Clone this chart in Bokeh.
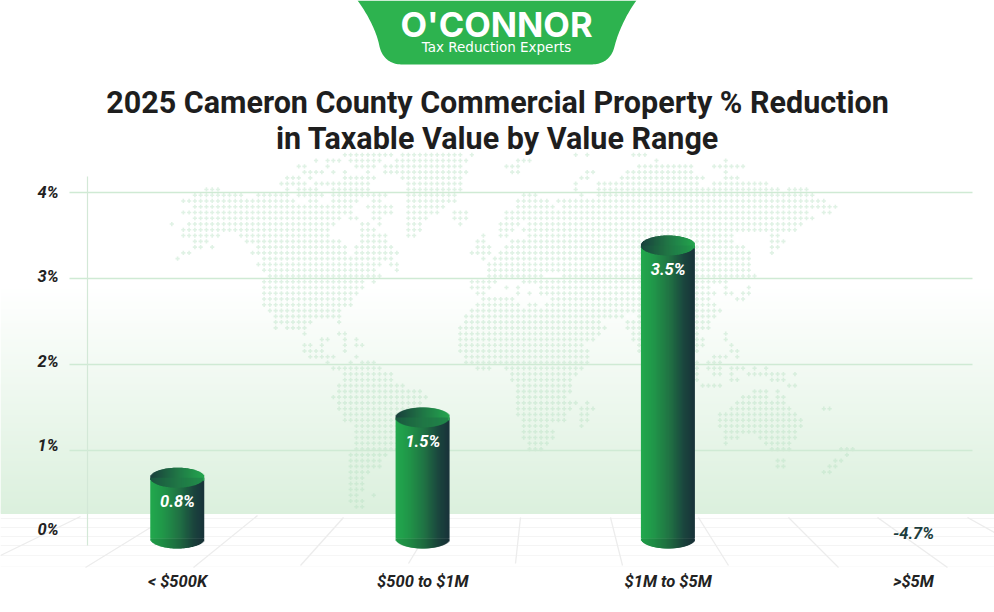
import numpy as np
from bokeh.plotting import figure
from bokeh.models import Range1d, LinearAxis, FixedTicker, ColumnDataSource
from bokeh.core.properties import value
from bokeh.embed import file_html
from bokeh.resources import INLINE

categories = ["< $500K", "$500 to $1M", "$1M to $5M", ">$5M"]
values = [0.8, 1.5, 3.5, -4.7]
value_labels = ["0.8%", "1.5%", "3.5%", "-4.7%"]
y_ticks = [0, 1, 2, 3, 4]
y_tick_labels = ["0%", "1%", "2%", "3%", "4%"]
title_lines = ["2025 Cameron County Commercial Property % Reduction", "in Taxable Value by Value Range"]

W, H = 994, 612
PX_PER_VAL = 86.0
ZERO_PY = 536.0
PX_PER_CAT = 245.33
FIRST_PX = 177.0

x0 = -FIRST_PX / PX_PER_CAT
p = figure(width=W, height=H, output_backend="svg", toolbar_location=None,
           x_range=Range1d(x0, x0 + W / PX_PER_CAT),
           y_range=Range1d((ZERO_PY - H) / PX_PER_VAL, ZERO_PY / PX_PER_VAL),
           x_axis_type=None, y_axis_type=None, min_border=0,
           background_fill_color="white", border_fill_color="white")
p.outline_line_color = None
p.grid.visible = False
p.extra_x_ranges["px"] = Range1d(0, W)
p.extra_y_ranges["py"] = Range1d(H, 0)
# tick labels sit on a slightly tighter spacing than the gridlines
LAB_ZERO, LAB_STEP = 529.0, 84.25
p.extra_y_ranges["labels"] = Range1d((LAB_ZERO - H) / LAB_STEP, LAB_ZERO / LAB_STEP)
PXR = dict(x_range_name="px", y_range_name="py")

# ---- background gradient band
ys = np.arange(285, 513)
t = (ys - 285) / (513 - 285)
c0, c1 = np.array([255, 255, 255]), np.array([219, 240, 221])
cols = ["#%02x%02x%02x" % tuple(int(round(a)) for a in c0 + (c1 - c0) * q) for q in t]
p.quad(left=0, right=W, top=ys, bottom=ys + 1.5, fill_color=cols, line_color=None, **PXR)

# ---- floor
for yy, col in [(518, "#f4f4f4"), (527, "#f4f4f4"), (536, "#f4f4f4"), (545, "#f4f4f4"), (555, "#f6f6f6"), (566, "#fbfbfb")]:
    p.segment(0, yy, W, yy, line_color=col, line_width=1.2, **PXR)
floor = [(0, 555, 80, 516), (85, 567, 150, 527), (193, 567, 257, 515), (300, 565, 343, 517),
         (408, 563, 437, 515), (515, 563, 520, 517), (622, 565, 610, 517), (728, 565, 698, 517),
         (838, 567, 788, 517), (947, 567, 877, 517), (994, 532, 967, 517)]
p.segment(*[list(a) for a in zip(*floor)], line_color="#ececec", line_width=1.3, **PXR)

# ---- dotted world map: row -> spans of page x
map_rows = {
 0:[(344,390),(402,460),(471,471),(574,574),(586,586),(632,643)],
 1:[(316,316),(327,339),(350,379),(397,465),(517,528),(655,655),(724,724)],
 2:[(298,304),(327,327),(356,373),(385,460),(505,517),(637,690),(713,742)],
 3:[(304,322),(333,333),(344,344),(368,368),(385,465),(511,517),(586,592),(627,690),(724,724)],
 4:[(287,298),(310,310),(344,373),(402,460),(580,586),(621,701),(724,736)],
 5:[(281,304),(316,368),(408,460),(574,574),(598,695),(713,765)],
 6:[(206,218),(287,287),(298,316),(333,368),(408,460),(574,574),(598,777),(787,804)],
 7:[(195,241),(258,287),(298,322),(333,385),(408,453),(523,534),(580,580),(598,810)],
 8:[(183,293),(310,316),(333,356),(373,379),(408,453),(517,546),(557,822)],
 9:[(195,350),(368,390),(408,441),(517,552),(563,833)],
 10:[(183,350),(373,390),(408,436),(453,465),(505,805),(822,828)],
 11:[(195,338),(350,356),(373,379),(408,425),(453,465),(505,812)],
 12:[(171,171),(189,333),(362,368),(379,379),(408,419),(459,459),(499,517),(528,800)],
 13:[(183,328),(362,373),(408,419),(499,511),(523,793)],
 14:[(183,218),(241,328),(362,385),(408,413),(483,483),(499,505),(528,730),(770,777)],
 15:[(195,206),(247,338),(362,385),(477,483),(511,730),(770,782)],
 16:[(195,200),(212,212),(258,345),(356,390),(477,488),(505,742),(770,777)],
 17:[(183,189),(253,345),(356,397),(471,488),(499,747),(770,770)],
 18:[(177,177),(264,390),(483,483),(494,747)],
 19:[(258,379),(390,397),(488,748)],
 20:[(264,373),(397,397),(488,747)],
 21:[(269,379),(488,540),(563,753)],
 22:[(264,362),(373,373),(471,494),(523,725)],
 23:[(264,362),(471,488),(506,506),(517,517),(540,707),(724,724),(747,747)],
 24:[(264,356),(477,483),(517,517),(528,528),(540,713),(724,730),(742,747)],
 25:[(264,350),(483,512),(552,707),(736,742)],
 26:[(264,350),(477,517),(528,535),(546,713)],
 27:[(269,338),(471,718)],
 28:[(275,338),(465,592),(598,620),(638,713)],
 29:[(275,310),(338,338),(465,600),(627,707)],
 30:[(275,275),(287,304),(459,603),(627,707)],
 31:[(304,304),(338,344),(459,598),(631,695),(724,724)],
 32:[(322,327),(344,344),(356,356),(459,593),(631,702),(724,724)],
 33:[(304,310),(322,322),(344,344),(356,362),(459,581),(637,702),(730,730)],
 34:[(304,322),(344,344),(459,587),(637,695),(730,736)],
 35:[(310,333),(356,356),(465,587),(713,724),(736,736)],
 36:[(327,327),(350,350),(362,373),(465,587),(695,695),(707,718)],
 37:[(333,379),(477,488),(506,581),(695,695),(707,718),(730,742),(753,753),(765,765)],
 38:[(344,391),(511,575),(695,695),(713,718),(730,730),(748,783),(793,793)],
 39:[(344,391),(511,569),(695,695),(730,736),(771,783)],
 40:[(338,402),(517,569),(701,718),(788,793)],
 41:[(338,420),(517,569),(753,765),(777,777)],
 42:[(333,426),(517,563),(742,765),(777,783)],
 43:[(338,420),(517,575),(587,587),(736,783)],
 44:[(338,420),(517,569),(581,593),(730,788),(823,828)],
 45:[(344,395),(517,563),(581,587),(718,793)],
 46:[(344,395),(523,563),(581,587),(718,799)],
 47:[(356,395),(523,546),(581,581),(718,799)],
 48:[(356,395),(523,552),(724,793)],
 49:[(356,395),(523,552),(724,736),(759,793)],
 50:[(356,395),(528,546),(724,724),(765,788)],
 51:[(356,395),(528,540),(771,788),(840,852)],
 52:[(350,385),(846,846)],
 53:[(350,379),(777,783),(834,840)],
 54:[(350,379),(777,783),(828,834)],
 55:[(350,367),(823,828)],
 56:[(350,362)], 57:[(350,362)], 58:[(350,362)],
 59:[(350,356),(373,373)],
 60:[(350,362)],
 61:[(356,362)],
}
PITCH = 5.77
mx, my = [], []
for k, spans in map_rows.items():
    for a, b in spans:
        ja = int(round((a - 171.3) / PITCH))
        jb = int(round((b - 171.3) / PITCH))
        for j in range(ja, jb + 1):
            mx.append(171.3 + PITCH * j)
            my.append(154.3 + PITCH * k)
p.scatter(mx, my, marker="plus", size=4.2, fill_color="#b5e0c2", fill_alpha=0.42, line_color=None, **PXR)

# ---- gridlines from the y ticks
grid_left, grid_right = (69 / PX_PER_CAT + x0), (972 / PX_PER_CAT + x0)
gt = [v for v in y_ticks if v > 0]
p.segment(x0=[grid_left] * len(gt), y0=gt, x1=[grid_right] * len(gt), y1=gt,
          line_color="#cfeAd4", line_width=1.4)

# ---- y axis (labels + vertical line)
yax = LinearAxis(y_range_name="labels", fixed_location=87 / PX_PER_CAT + x0,
                 ticker=FixedTicker(ticks=y_ticks),
                 major_label_overrides=dict(zip(y_ticks, y_tick_labels)),
                 major_tick_line_color=None, minor_tick_line_color=None,
                 axis_line_color="#d3e8d7", axis_line_width=1.2,
                 major_label_standoff=23, major_label_text_font="Roboto",
                 major_label_text_font_style="bold italic", major_label_text_font_size="16.5px",
                 major_label_text_color="#222222",
                 bounds=((LAB_ZERO - 545) / LAB_STEP, (LAB_ZERO - 176) / LAB_STEP))
p.add_layout(yax, "left")

# ---- x axis
xax = LinearAxis(fixed_location=(ZERO_PY - 562) / PX_PER_VAL,
                 ticker=FixedTicker(ticks=list(range(len(categories)))),
                 major_label_overrides=dict(enumerate(categories)),
                 axis_line_color=None, major_tick_line_color=None, minor_tick_line_color=None,
                 major_label_standoff=3, major_label_text_font="Roboto",
                 major_label_text_font_style="bold italic", major_label_text_font_size="16.5px",
                 major_label_text_color="#222222")
p.add_layout(xax, "below")

# ---- cylinders: built from values, one thin slice per pixel column
def mix(stops, q):
    pos = [s[0] for s in stops]
    return [np.interp(q, pos, [s[1][i] for s in stops]) for i in range(3)]

def hexc(rgb, f=1.0):
    return "#%02x%02x%02x" % tuple(int(round(min(255, c * f))) for c in rgb)

BODY = [(0, (34, 170, 78)), (0.25, (33, 150, 73)), (0.55, (32, 112, 68)), (0.8, (27, 70, 62)), (1, (25, 50, 58))]
LID = [(0, (26, 62, 60)), (0.5, (32, 118, 70)), (1, (36, 166, 78))]
HALF_W, HALF_H = 27.0, 10.0
BASE = -2.0 / PX_PER_VAL
bx, bt, bb, bc = [], [], [], []
for i, v in enumerate(values):
    if v <= 0:
        continue
    cy = v - HALF_H / PX_PER_VAL
    for dx in np.arange(-HALF_W + 0.75, HALF_W - 0.5, 1.0):
        q = (dx + HALF_W) / (2 * HALF_W)
        h = HALF_H * np.sqrt(max(0, 1 - (dx / HALF_W) ** 2)) / PX_PER_VAL
        cx = i + dx / PX_PER_CAT
        bx += [cx, cx, cx]
        bt += [cy, BASE, cy + h]
        bb += [BASE, BASE - h, cy - h]
        body = mix(BODY, q)
        bc += [hexc(body), hexc(body, 0.92), hexc(mix(LID, q))]
src = ColumnDataSource(dict(x=bx, top=bt, bottom=bb, color=bc))
p.vbar(x="x", top="top", bottom="bottom", width=2.0 / PX_PER_CAT, fill_color="color", line_color=None, source=src)

# ---- value labels
lab_y = [v - 34 / PX_PER_VAL if v > 0 else 3 / PX_PER_VAL for v in values]
lab_c = ["#ffffff" if v > 0 else "#1d3d3d" for v in values]
p.text(x=list(range(len(values))), y=lab_y, text=value_labels, text_color=lab_c,
       text_font=value("Roboto"), text_font_style="bold italic", text_font_size="16.5px",
       text_align="center", text_baseline="middle")

# ---- title
p.text(x=[497, 497], y=[102, 138], text=title_lines, text_color="#1e1e1e", text_font=value("Roboto"),
       text_font_style="bold", text_font_size="30.5px", text_align="center", text_baseline="middle", **PXR)

# ---- logo
def bez(a, b, c, d, n=24):
    s = np.linspace(0, 1, n)
    return [((1-u)**3*a[0]+3*(1-u)**2*u*b[0]+3*(1-u)*u*u*c[0]+u**3*d[0],
             (1-u)**3*a[1]+3*(1-u)**2*u*b[1]+3*(1-u)*u*u*c[1]+u**3*d[1]) for u in s]
pts = (bez((357, 0), (366, 12), (376, 30), (379, 46)) + bez((379, 46), (382, 58), (390, 64), (402, 64)) +
       bez((590, 64), (603, 64), (611, 58), (614, 46)) + bez((614, 46), (618, 30), (627, 12), (636, 0)))
p.patch([a[0] for a in pts], [a[1] for a in pts], fill_color="#2db34f", line_color=None, **PXR)
p.text(x=[496], y=[24], text=["O'CONNOR"], text_color="white", text_font=value("Inter"), text_font_style="bold",
       text_font_size="34.5px", text_align="center", text_baseline="middle", **PXR)
p.text(x=[496], y=[46], text=["Tax Reduction Experts"], text_color="white", text_font=value("DejaVu Sans"),
       text_font_size="13.5px", text_align="center", text_baseline="middle", **PXR)

open("out.html", "w").write(file_html(p, INLINE))
